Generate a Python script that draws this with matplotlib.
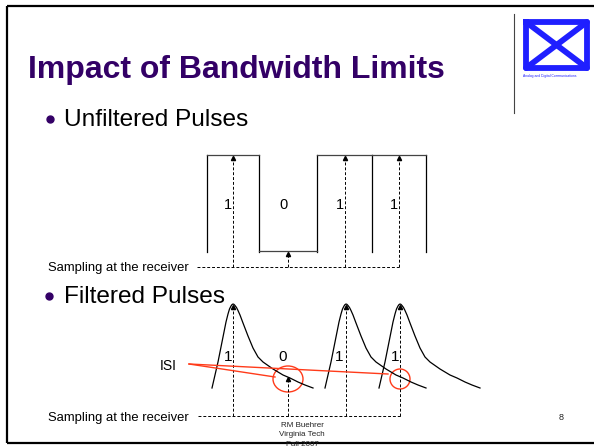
import matplotlib

matplotlib.use("Agg")
import matplotlib.pyplot as plt
from matplotlib.patches import Ellipse

plt.rcParams["font.family"] = ["Liberation Sans", "DejaVu Sans"]

# slide canvas is laid out in pixel units (y grows downward)
W, H = 594, 447

# --- unfiltered pulses ---
bits = [1, 0, 1, 1]
bit_edges = [207, 259, 317, 372, 426]
high_y, low_y = 155, 251
sample_line_top = 267

# --- filtered pulses ---
filt_peaks = [233, 346, 400]
zero_sample = 288
# pulse shape: (offset from peak, y)
pulse_dx = [-21, -18, -15, -12, -9, -7, -5, -3.5, -2, -1, 0, 1, 2, 3.5, 5, 7, 10, 15, 20,
            25, 30, 40, 50, 57, 65, 72, 80]
pulse_y = [388, 375, 362, 347, 332, 322, 314, 309, 306, 304.6, 304, 304.4, 305.5, 307.5,
           310.5, 315, 323, 336, 348, 357, 362, 369, 375, 378, 382, 385, 388]
peak_y = 304
zero_sample_y = 377
sample_line_bottom = 416
filt_labels = ["1", "0", "1", "1"]
filt_label_x = [228, 283, 339, 395]

# ISI call-outs
isi_src = (189, 364)
isi_targets = [(275, 377), (388, 374)]
isi_circles = [(288, 379, 30, 26), (400, 379, 20, 20)]

purple = "#330066"
red = "#ff3b1a"
blue = "#1f1fff"
dash = (0, (3, 2))

fig = plt.figure(figsize=(W / 100, H / 100), dpi=100)
ax = fig.add_axes([0, 0, 1, 1])
ax.set_xlim(0, W)
ax.set_ylim(H, 0)
ax.axis("off")

# slide frame
ax.plot([7, W], [6, 6], color="black", lw=1.6, solid_capstyle="butt")
ax.plot([7, 7], [6, 443], color="black", lw=1.6, solid_capstyle="butt")
ax.plot([7, W], [443, 443], color="black", lw=1.6, solid_capstyle="butt")

# logo
ax.plot([514, 514], [14, 113], color="#444444", lw=0.8)
bx0, bx1, by0, by1 = 526, 587, 22, 68
ax.plot([bx0, bx1, bx1, bx0, bx0], [by0, by0, by1, by1, by0], color=blue, lw=4.2,
        solid_joinstyle="round")
ax.plot([bx0, bx1], [by0, by1], color=blue, lw=4.2, solid_capstyle="round")
ax.plot([bx0, bx1], [by1, by0], color=blue, lw=4.2, solid_capstyle="round")
ax.text(523, 77, "Analog and Digital Communications", fontsize=2.4, color=blue, va="baseline")

# title and bullets
ax.text(28, 78, "Impact of Bandwidth Limits", fontsize=23, fontweight="bold",
        color=purple, va="baseline")
ax.plot([50], [119], "o", color=purple, ms=5)
ax.text(64, 126, "Unfiltered Pulses", fontsize=17.6, va="baseline")
ax.plot([49], [296], "o", color=purple, ms=5)
ax.text(64, 303, "Filtered Pulses", fontsize=17.6, va="baseline")

# unfiltered waveform
for x in bit_edges:
    ax.plot([x, x], [high_y, low_y + 1], color="black", lw=0.9)
for b, x0, x1 in zip(bits, bit_edges[:-1], bit_edges[1:]):
    y = high_y if b else low_y
    ax.plot([x0, x1], [y, y], color="#444444", lw=0.9)
    xm = (x0 + x1) / 2
    ax.plot([xm, xm], [sample_line_top, y + 3], color="black", lw=0.7, ls=dash)
    ax.plot([xm], [y + 3], marker="^", color="black", ms=3)
    ax.text(xm - 5, 209, str(b), fontsize=10.5, ha="center", va="baseline")
mids = [(a + b) / 2 for a, b in zip(bit_edges[:-1], bit_edges[1:])]
ax.plot([197, mids[-1]], [sample_line_top] * 2, color="black", lw=0.7, ls=dash)
ax.text(48, 271.5, "Sampling at the receiver", fontsize=9.4, va="baseline")

# filtered pulses
for px in filt_peaks:
    ax.plot([px + d for d in pulse_dx], pulse_y, color="black", lw=0.9)
    ax.plot([px, px], [sample_line_bottom, peak_y + 3], color="black", lw=0.7, ls=dash)
    ax.plot([px], [peak_y + 3], marker="^", color="black", ms=3)
ax.plot([zero_sample, zero_sample], [sample_line_bottom, zero_sample_y + 2],
        color="black", lw=0.7, ls=dash)
ax.plot([zero_sample], [zero_sample_y + 2], marker="^", color="black", ms=3)
ax.plot([198, filt_peaks[-1] + 2], [sample_line_bottom] * 2, color="black", lw=0.7, ls=dash)
for lab, lx in zip(filt_labels, filt_label_x):
    ax.text(lx, 361, lab, fontsize=11, ha="center", va="baseline")
ax.text(48, 420.5, "Sampling at the receiver", fontsize=9.4, va="baseline")

# ISI markers
ax.text(160, 370, "ISI", fontsize=10, va="baseline")
for tx, ty in isi_targets:
    ax.plot([isi_src[0], tx], [isi_src[1], ty], color=red, lw=1.0)
for cx, cy, w, h in isi_circles:
    ax.add_patch(Ellipse((cx, cy), w, h, fill=False, edgecolor=red, lw=1.0))

# footer
for i, line in enumerate(["RM Buehrer", "Virginia Tech", "Fall 2007"]):
    ax.text(302, 427 + 9.5 * i, line, fontsize=5.8, ha="center", va="baseline",
            color="#222222")
ax.text(561, 420, "8", fontsize=6.5, ha="center", va="baseline", color="#222222")

fig.savefig("out.png", dpi=100)
plt.close(fig)
